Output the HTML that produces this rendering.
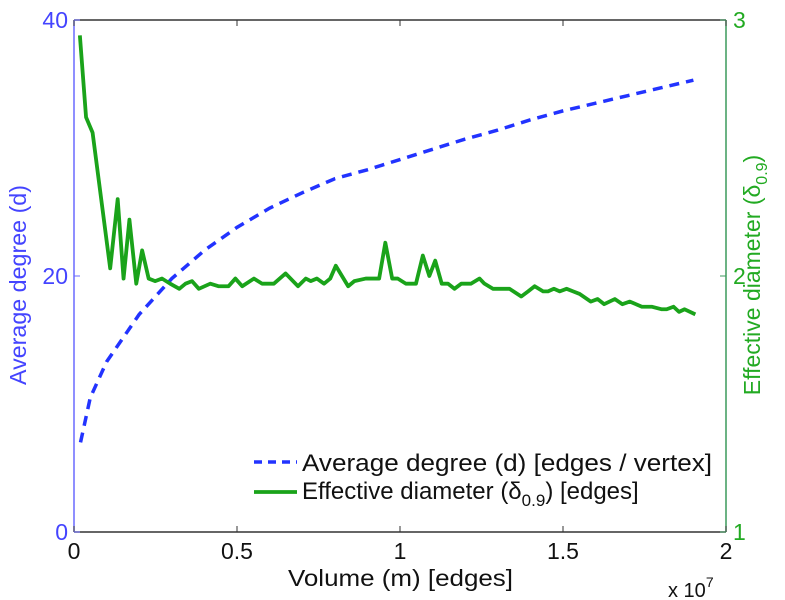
<!DOCTYPE html>
<html><head><meta charset="utf-8"><style>
body{margin:0;background:#fff;}
svg{display:block;font-family:"Liberation Sans",sans-serif;}
</style></head><body>
<svg id="chart" width="785" height="600">
<rect x="0" y="0" width="785" height="600" fill="#fff"/>
<g id="plot"></g>
</svg>
<script>
const xTicks=[0,0.5,1,1.5,2];
const xTickLabels=["0","0.5","1","1.5","2"];
const leftTicks=[0,20,40];
const rightTicks=[1,2,3];
const degM=[0.02,0.05,0.1,0.2,0.3,0.4,0.5,0.6,0.7,0.8,0.9,1.0,1.1,1.2,1.3,1.4,1.5,1.6,1.7,1.8,1.9];
const degVal=[7,10.5,13.3,17,19.8,22,23.8,25.3,26.5,27.6,28.3,29.1,29.9,30.7,31.4,32.2,32.9,33.5,34.1,34.7,35.3];
const diaM=[0.018,0.037,0.057,0.111,0.134,0.152,0.170,0.191,0.209,0.229,0.249,0.270,0.295,0.323,0.342,0.362,0.383,0.418,0.443,0.474,0.495,0.516,0.552,0.577,0.613,0.649,0.687,0.711,0.726,0.745,0.767,0.786,0.803,0.841,0.860,0.895,0.936,0.955,0.976,0.993,1.018,1.049,1.070,1.090,1.108,1.128,1.147,1.167,1.188,1.218,1.244,1.259,1.285,1.336,1.372,1.393,1.413,1.439,1.454,1.472,1.490,1.511,1.531,1.551,1.585,1.606,1.626,1.659,1.682,1.705,1.742,1.772,1.803,1.818,1.839,1.856,1.873,1.906];
const diaVal=[2.94,2.62,2.56,2.03,2.30,1.99,2.22,1.97,2.10,1.99,1.98,1.99,1.97,1.95,1.97,1.98,1.95,1.97,1.96,1.96,1.99,1.96,1.99,1.97,1.97,2.01,1.96,1.99,1.98,1.99,1.97,1.99,2.04,1.96,1.98,1.99,1.99,2.13,1.99,1.99,1.97,1.97,2.08,2.00,2.06,1.97,1.97,1.95,1.97,1.97,1.99,1.97,1.95,1.95,1.92,1.94,1.96,1.94,1.94,1.95,1.94,1.95,1.94,1.93,1.90,1.91,1.89,1.91,1.89,1.90,1.88,1.88,1.87,1.87,1.88,1.86,1.87,1.85];

const L=74,R=726,T=20,B=532;
const xs=v=>L+(v/2)*(R-L);
const yl=v=>B-(v/40)*(B-T);
const yr=v=>B-((v-1)/2)*(B-T);
const NS="http://www.w3.org/2000/svg";
const g=document.getElementById('plot');
function mk(tag,attrs,text){const e=document.createElementNS(NS,tag);for(const k in attrs)e.setAttribute(k,attrs[k]);if(text!==undefined)e.textContent=text;g.appendChild(e);return e;}

let e=mk('line',{x1:L,y1:T,x2:R,y2:T,stroke:'#333','stroke-width':1.5});


e=mk('line',{x1:L,y1:B,x2:R,y2:B,stroke:'#333','stroke-width':1.5});


e=mk('line',{x1:L,y1:T,x2:L,y2:B,stroke:'#6a6aff','stroke-width':1.5});


e=mk('line',{x1:R,y1:T,x2:R,y2:B,stroke:'#3c9a5c','stroke-width':1.5});



xTicks.forEach((v,i)=>{
  const x=xs(v);
  let t=mk('line',{x1:x,y1:B,x2:x,y2:B-6,stroke:'#333','stroke-width':1});
  
  
  t=mk('line',{x1:x,y1:T,x2:x,y2:T+6,stroke:'#333','stroke-width':1});
  
  
  t=mk('text',{x:x,y:559,'text-anchor':'middle','font-size':23,fill:'#111'},xTickLabels[i]);
  
  
});
leftTicks.forEach(v=>{
  const y=yl(v);
  let t=mk('line',{x1:L,y1:y,x2:L+6,y2:y,stroke:'#6a6aff','stroke-width':1});
  
  
  t=mk('text',{x:L-6,y:y+8,'text-anchor':'end','font-size':23,fill:'#4444ff'},String(v));
  
  
});
rightTicks.forEach(v=>{
  const y=yr(v);
  let t=mk('line',{x1:R,y1:y,x2:R-6,y2:y,stroke:'#3c9a5c','stroke-width':1});
  
  
  t=mk('text',{x:R+7,y:y+8,'text-anchor':'start','font-size':23,fill:'#22aa22'},String(v));
  
  
});

let p=mk('polyline',{points:degM.map((m,i)=>xs(m)+','+yl(degVal[i])).join(' '),fill:'none',stroke:'#2233ff','stroke-width':3.5,'stroke-dasharray':'10,7'});


p=mk('polyline',{points:diaM.map((m,i)=>xs(m)+','+yr(diaVal[i])).join(' '),fill:'none',stroke:'#1aa31a','stroke-width':3.8,'stroke-linejoin':'round'});



e=mk('text',{x:0,y:0,transform:'translate(26,285) rotate(-90)','text-anchor':'middle','font-size':23,fill:'#4444ff',textLength:200,lengthAdjust:'spacingAndGlyphs'},'Average degree (d)');


e=mk('text',{x:0,y:0,transform:'translate(760,275) rotate(-90)','text-anchor':'middle','font-size':23,fill:'#22aa22'});
e.innerHTML='Effective diameter (δ<tspan font-size="16" dy="7">0.9</tspan><tspan dy="-7">)</tspan>';


e=mk('text',{x:288,y:586,'font-size':23,fill:'#111',textLength:225,lengthAdjust:'spacingAndGlyphs'},'Volume (m) [edges]');


e=mk('text',{x:668,y:597,'font-size':20,fill:'#111'});
e.innerHTML='x 10<tspan font-size="14" dy="-10">7</tspan>';



e=mk('line',{x1:254,y1:462,x2:297,y2:462,stroke:'#2233ff','stroke-width':3.5,'stroke-dasharray':'8,6'});


e=mk('text',{x:302,y:471,'font-size':24,fill:'#111',textLength:410,lengthAdjust:'spacingAndGlyphs'},'Average degree (d) [edges / vertex]');


e=mk('line',{x1:254,y1:492,x2:297,y2:492,stroke:'#1aa31a','stroke-width':3.8});


e=mk('text',{x:302,y:499,'font-size':24,fill:'#111'});
e.innerHTML='Effective diameter (δ<tspan font-size="17" dy="7">0.9</tspan><tspan dy="-7">) [edges]</tspan>';


</script>
</body></html>
